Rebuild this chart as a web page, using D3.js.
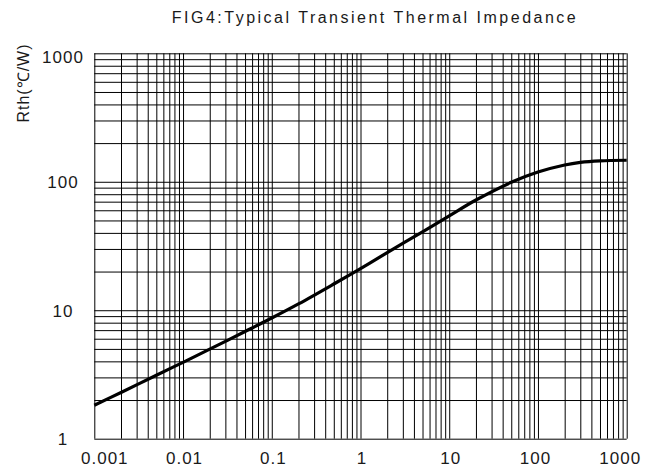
<!DOCTYPE html>
<html>
<head>
<meta charset="utf-8">
<script src="https://cdn.jsdelivr.net/npm/d3@7"></script>
<style>
  html, body { margin: 0; padding: 0; background: #fff; }
  svg { display: block; }
  text { font-family: "Liberation Sans", Arial, sans-serif; fill: #1a1a1a; }
</style>
</head>
<body>
<svg id="chart" width="656" height="472"></svg>
<script>
// ---- data ----
const title = "FIG4:Typical Transient Thermal Impedance";
const yLabel = "Rth(\u2103/W)";
const timeValues = [0.001, 0.002, 0.005, 0.01, 0.02, 0.05, 0.1, 0.2, 0.5, 1, 2, 5, 10, 20, 50, 100, 200, 300, 500, 1000];
const rthValues  = [1.82,  2.29,  3.12,  3.93, 4.98, 6.83, 8.7, 11.2, 16.0, 21.1, 28.1, 40.8, 54.3, 72.1, 99, 119, 135, 141.5, 145.5, 147];
const xTickValues = [0.001, 0.01, 0.1, 1, 10, 100, 1000];
const xTickLabels = ["0.001", "0.01", "0.1", "1", "10", "100", "1000"];
const yTickValues = [1, 10, 100, 1000];
const yTickLabels = ["1", "10", "100", "1000"];

// ---- layout ----
const svg = d3.select("#chart");
const pLeft = 94.3, pRight = 626.7, pTop = 53.3, pBottom = 438.7;

const x = d3.scaleLog().domain([0.001, 1000]).range([pLeft, pRight]);
const y = d3.scaleLog().domain([1, 1000]).range([pBottom, pTop]);

// minor + major grid values (1..9 per decade)
const xGrid = [];
for (let e = -3; e < 3; e++) for (let m = 1; m < 10; m++) xGrid.push(m * Math.pow(10, e));
xGrid.push(1000);
const yGrid = [];
for (let e = 0; e < 3; e++) for (let m = 1; m < 10; m++) yGrid.push(m * Math.pow(10, e));
yGrid.push(1000);

// vertical grid via axis
const gx = svg.append("g")
  .attr("transform", `translate(0,${pTop})`)
  .call(d3.axisBottom(x).tickValues(xGrid).tickSize(pBottom - pTop).tickFormat(""));
gx.select(".domain").remove();
gx.selectAll(".tick line").attr("stroke", "#000").attr("stroke-width", 1);

// horizontal grid via axis
const gy = svg.append("g")
  .attr("transform", `translate(${pLeft},0)`)
  .call(d3.axisRight(y).tickValues(yGrid).tickSize(pRight - pLeft).tickFormat(""));
gy.select(".domain").remove();
gy.selectAll(".tick line").attr("stroke", "#000").attr("stroke-width", 1);

// curve
const pts = timeValues.map((t, i) => ({ t, r: rthValues[i] }));
svg.append("path")
  .datum(pts)
  .attr("fill", "none")
  .attr("stroke", "#000")
  .attr("stroke-width", 3.2)
  .attr("d", d3.line().x(d => x(d.t)).y(d => y(d.r)).curve(d3.curveCatmullRom.alpha(0.5)));

// x tick labels
const nX = xTickValues.length;
const xl = svg.append("g")
  .attr("transform", `translate(0,${pBottom})`)
  .call(d3.axisBottom(x).tickValues(xTickValues).tickSize(0).tickPadding(13)
    .tickFormat((d, i) => xTickLabels[i]));
xl.select(".domain").remove();
xl.selectAll("text")
  .style("font-family", "'Liberation Sans', Arial, sans-serif")
  .style("font-size", "17px")
  .style("letter-spacing", "1px")
  .attr("fill", "#1a1a1a")
  .attr("dx", (d, i) => i === 0 ? 10 : (i === nX - 1 ? -7 : (i === nX - 2 ? -3 : 1)));

// y tick labels
const nY = yTickValues.length;
const yl = svg.append("g")
  .attr("transform", `translate(63,0)`)
  .call(d3.axisLeft(y).tickValues(yTickValues).tickSize(0).tickPadding(0)
    .tickFormat((d, i) => yTickLabels[i]));
yl.select(".domain").remove();
yl.selectAll("text")
  .attr("text-anchor", "middle")
  .style("font-family", "'Liberation Sans', Arial, sans-serif")
  .style("font-size", "17px")
  .style("letter-spacing", "1px")
  .attr("fill", "#1a1a1a")
  .attr("dy", (d, i) => i === nY - 1 ? "0.55em" : "0.36em");

// title
svg.append("text")
  .attr("x", 375)
  .attr("y", 23)
  .attr("text-anchor", "middle")
  .style("font-size", "16px")
  .style("letter-spacing", "2.5px")
  .text(title);

// y label
svg.append("text")
  .attr("transform", "translate(29,83) rotate(-90)")
  .attr("text-anchor", "middle")
  .style("font-size", "16px")
  .style("letter-spacing", "1px")
  .text(yLabel);
</script>
</body>
</html>
